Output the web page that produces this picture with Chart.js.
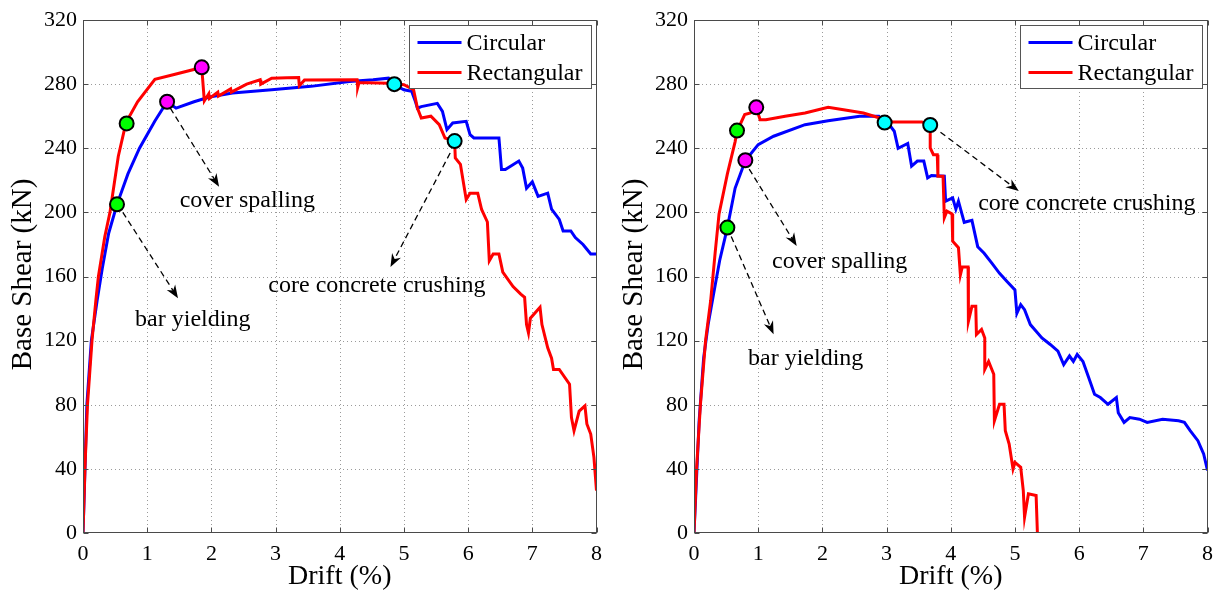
<!DOCTYPE html>
<html>
<head>
<meta charset="utf-8">
<script src="https://cdn.jsdelivr.net/npm/chart.js@4/dist/chart.umd.min.js"></script>
<style>
  body { margin: 0; background: #fff; }
  .panel { position: absolute; top: 0; height: 595px; }
  #left { left: 0; width: 610px; }
  #right { left: 610px; width: 611px; }
</style>
</head>
<body>
<div class="panel" id="left"><canvas id="chartLeft"></canvas></div>
<div class="panel" id="right"><canvas id="chartRight"></canvas></div>
<script>
// axis ticks
const driftTicks = [0, 1, 2, 3, 4, 5, 6, 7, 8];
const shearTicks = [0, 40, 80, 120, 160, 200, 240, 280, 320];

// left panel - circular column
const leftCircDrift = [0, 0.02, 0.06, 0.13, 0.22, 0.3, 0.4, 0.53, 0.7, 0.88, 1.12, 1.31, 1.45, 1.73, 1.97, 2.33, 2.94, 3.55, 4.15, 4.52, 4.76, 4.85, 5.0, 5.12, 5.18, 5.21, 5.27, 5.52, 5.6, 5.67, 5.76, 5.97, 6.03, 6.09, 6.48, 6.52, 6.58, 6.79, 6.85, 6.91, 7.0, 7.09, 7.24, 7.3, 7.42, 7.48, 7.6, 7.67, 7.79, 7.85, 7.91, 8.0];
const leftCircShear = [0, 25, 80, 120, 145, 165, 187, 205, 224, 240, 257, 269, 265, 269, 272, 274.5, 276.5, 278.6, 281.6, 282.7, 283.7, 279.6, 276.5, 275.5, 269, 265, 266, 268, 263, 251.6, 255.8, 256.8, 248.5, 246.4, 246.4, 226.7, 226.7, 232, 227.6, 215, 219, 210, 212, 202, 195.6, 188.4, 188.4, 184.3, 180, 177, 174, 174];

// left panel - rectangular column
const leftRectDrift = [0, 0.03, 0.07, 0.14, 0.2, 0.24, 0.34, 0.42, 0.55, 0.67, 0.85, 1.12, 1.42, 1.85, 1.89, 1.96, 1.97, 2.1, 2.11, 2.3, 2.31, 2.55, 2.76, 2.77, 2.94, 3.18, 3.36, 3.37, 3.45, 4.27, 4.28, 4.3, 4.76, 5.0, 5.15, 5.21, 5.27, 5.42, 5.55, 5.64, 5.79, 5.8, 5.88, 5.97, 6.03, 6.15, 6.21, 6.3, 6.33, 6.39, 6.48, 6.54, 6.7, 6.82, 6.88, 6.91, 6.94, 6.97, 7.12, 7.15, 7.24, 7.3, 7.33, 7.42, 7.58, 7.61, 7.65, 7.73, 7.82, 7.85, 7.91, 7.96, 8.0];
const leftRectShear = [0, 40, 80, 120, 145, 160, 185, 200, 235, 256, 269, 283, 286, 290.4, 269.6, 274, 271, 275, 272.5, 277, 275, 280, 282.7, 280, 283.7, 284, 284.1, 279, 282.5, 282.7, 278, 281, 280.6, 279.6, 276.5, 265, 258.9, 260, 254.7, 246.4, 244.4, 234, 230, 208, 212, 212, 201.8, 194, 169.8, 174, 174, 162.7, 153.7, 149, 147, 130, 124.8, 134, 140.8, 130, 115.5, 109, 102, 102, 92.8, 72, 63.8, 76, 79.3, 68, 61.7, 47.2, 26.5];

// right panel - circular column
const rightCircDrift = [0, 0.03, 0.08, 0.15, 0.22, 0.3, 0.4, 0.52, 0.64, 0.8, 1.0, 1.24, 1.73, 2.09, 2.58, 2.88, 2.97, 3.06, 3.12, 3.18, 3.33, 3.39, 3.48, 3.58, 3.64, 3.7, 3.9, 3.92, 4.03, 4.08, 4.12, 4.21, 4.33, 4.42, 4.52, 4.64, 4.76, 4.88, 5.0, 5.03, 5.09, 5.15, 5.24, 5.33, 5.42, 5.55, 5.67, 5.76, 5.85, 5.91, 5.97, 6.06, 6.15, 6.24, 6.33, 6.45, 6.58, 6.61, 6.7, 6.79, 6.94, 7.06, 7.3, 7.55, 7.64, 7.73, 7.85, 7.94, 8.0];
const rightCircShear = [0, 26, 70, 109, 130, 148, 170, 190.5, 215, 232.3, 242.3, 247.5, 254.7, 257.2, 259.9, 260, 255.8, 253.8, 250.6, 240, 243, 228.8, 232, 232, 221.5, 223, 222.6, 207, 209, 202, 207, 193.8, 195, 178.6, 174.5, 168.3, 162, 156.7, 151.6, 137, 142.4, 139.3, 130, 125.9, 121.7, 117.6, 113.5, 105, 110.4, 107, 111.4, 107, 96.9, 86.5, 84.5, 80.3, 84.5, 75, 69, 72, 71, 69, 71, 70, 69, 63.8, 57.6, 49.3, 39];

// right panel - rectangular column
const rightRectDrift = [0, 0.04, 0.1, 0.18, 0.26, 0.33, 0.39, 0.52, 0.64, 0.67, 0.79, 0.88, 0.97, 1.03, 1.12, 1.42, 1.73, 2.09, 2.33, 2.64, 2.88, 3.06, 3.55, 3.68, 3.68, 3.73, 3.79, 3.8, 3.88, 3.9, 3.94, 4.02, 4.03, 4.12, 4.15, 4.18, 4.27, 4.27, 4.28, 4.33, 4.39, 4.4, 4.48, 4.53, 4.53, 4.59, 4.67, 4.68, 4.76, 4.83, 4.85, 4.91, 4.93, 4.97, 5.0, 5.09, 5.13, 5.15, 5.21, 5.33, 5.35];
const rightRectShear = [0, 40, 80, 120, 145, 175, 199, 224, 244, 250.6, 261, 262, 265.2, 257.8, 257.8, 260, 262, 265.5, 264, 262, 259, 256.4, 256.4, 254.3, 240.2, 236, 236, 222.6, 222.6, 196.7, 200.8, 199, 182, 178, 161, 166, 166, 145, 132, 141.4, 141.4, 123.8, 127, 121.7, 102, 107, 99, 70, 80.3, 80.3, 63.8, 55.5, 50.3, 40, 44, 41, 26.5, 9.9, 24.4, 23.4, 0];

// damage-state markers [circular, rectangular]
const leftYield = [[0.53, 205], [0.68, 255.5]];
const leftSpall = [[1.31, 269], [1.85, 290.5]];
const leftCrush = [[4.85, 280], [5.79, 244.5]];
const rightYield = [[0.52, 190.5], [0.67, 251]];
const rightSpall = [[0.8, 232.5], [0.97, 265.5]];
const rightCrush = [[2.97, 256], [3.68, 254.5]];

// annotations: text, arrow start, arrow end, text centre (data units)
const leftNotes = [
  { text: 'cover spalling', from: [1.36, 265], to: [2.12, 216], at: [2.56, 207] },
  { text: 'bar yielding', from: [0.62, 200], to: [1.48, 146.5], at: [1.71, 133] },
  { text: 'core concrete crushing', from: [5.72, 237], to: [4.79, 166], at: [4.58, 154] }
];
const rightNotes = [
  { text: 'cover spalling', from: [0.86, 227], to: [1.6, 179], at: [2.27, 169] },
  { text: 'bar yielding', from: [0.58, 185], to: [1.24, 124], at: [1.74, 109] },
  { text: 'core concrete crushing', from: [3.84, 250], to: [5.06, 213.3], at: [6.12, 205.5] }
];

const SERIF = '"Liberation Serif", "Times New Roman", serif';

function pairs(xs, ys) {
  return xs.map((x, i) => ({ x: x, y: ys[i] }));
}

function pts(list) {
  return list.map(p => ({ x: p[0], y: p[1] }));
}

function marker(list, color) {
  return {
    label: '', data: pts(list), showLine: false, order: 0,
    pointRadius: 7, pointHoverRadius: 7, pointBorderWidth: 2,
    pointBorderColor: '#000', pointBackgroundColor: color
  };
}

function arrow(ctx, x0, y0, x1, y1) {
  const ang = Math.atan2(y1 - y0, x1 - x0);
  ctx.setLineDash([6, 4]);
  ctx.beginPath();
  ctx.moveTo(x0, y0);
  ctx.lineTo(x1 - 6 * Math.cos(ang), y1 - 6 * Math.sin(ang));
  ctx.stroke();
  ctx.setLineDash([]);
  ctx.beginPath();
  ctx.moveTo(x1, y1);
  ctx.lineTo(x1 - 13 * Math.cos(ang) + 5 * Math.sin(ang), y1 - 13 * Math.sin(ang) - 5 * Math.cos(ang));
  ctx.lineTo(x1 - 9 * Math.cos(ang), y1 - 9 * Math.sin(ang));
  ctx.lineTo(x1 - 13 * Math.cos(ang) - 5 * Math.sin(ang), y1 - 13 * Math.sin(ang) + 5 * Math.cos(ang));
  ctx.closePath();
  ctx.fill();
}

const decor = {
  id: 'decor',
  beforeDatasetsDraw(chart) {
    const { ctx, chartArea: a, scales: { x, y } } = chart;
    ctx.save();
    ctx.strokeStyle = '#9a9a9a';
    ctx.lineWidth = 1;
    ctx.setLineDash([1, 3]);
    x.ticks.forEach(t => {
      const px = Math.round(x.getPixelForValue(t.value)) + 0.5;
      if (px <= a.left + 1 || px >= a.right - 1) return;
      ctx.beginPath(); ctx.moveTo(px, a.top); ctx.lineTo(px, a.bottom); ctx.stroke();
    });
    y.ticks.forEach(t => {
      const py = Math.round(y.getPixelForValue(t.value)) + 0.5;
      if (py <= a.top + 1 || py >= a.bottom - 1) return;
      ctx.beginPath(); ctx.moveTo(a.left, py); ctx.lineTo(a.right, py); ctx.stroke();
    });
    ctx.restore();
  },
  afterDraw(chart, args, opts) {
    const { ctx, chartArea: a, scales: { x, y } } = chart;
    ctx.save();

    // annotations
    ctx.strokeStyle = '#000';
    ctx.fillStyle = '#000';
    ctx.lineWidth = 1.3;
    (opts.notes || []).forEach(n => {
      arrow(ctx, x.getPixelForValue(n.from[0]), y.getPixelForValue(n.from[1]),
        x.getPixelForValue(n.to[0]), y.getPixelForValue(n.to[1]));
      ctx.font = '24px ' + SERIF;
      ctx.textAlign = 'center';
      ctx.textBaseline = 'middle';
      ctx.fillText(n.text, x.getPixelForValue(n.at[0]), y.getPixelForValue(n.at[1]));
    });

    // frame and inward ticks
    ctx.setLineDash([]);
    ctx.strokeStyle = '#4a4a4a';
    ctx.lineWidth = 1;
    const L = Math.round(a.left) + 0.5, R = Math.round(a.right) - 0.5;
    const T = Math.round(a.top) + 0.5, B = Math.round(a.bottom) - 0.5;
    ctx.strokeRect(L, T, R - L, B - T);
    ctx.beginPath();
    x.ticks.forEach(t => {
      const px = Math.round(x.getPixelForValue(t.value)) + 0.5;
      ctx.moveTo(px, B); ctx.lineTo(px, B - 5);
      ctx.moveTo(px, T); ctx.lineTo(px, T + 5);
    });
    y.ticks.forEach(t => {
      const py = Math.round(y.getPixelForValue(t.value)) + 0.5;
      ctx.moveTo(L, py); ctx.lineTo(L + 5, py);
      ctx.moveTo(R, py); ctx.lineTo(R - 5, py);
    });
    ctx.stroke();

    // axis titles
    ctx.fillStyle = '#000';
    ctx.font = '28px ' + SERIF;
    ctx.textAlign = 'center';
    ctx.textBaseline = 'alphabetic';
    ctx.fillText('Drift (%)', (a.left + a.right) / 2, 584);
    ctx.save();
    ctx.translate(a.left - 60, (a.top + a.bottom) / 2 - 2);
    ctx.rotate(-Math.PI / 2);
    ctx.font = '29px ' + SERIF;
    ctx.textBaseline = 'middle';
    ctx.fillText('Base Shear (kN)', 0, 0);
    ctx.restore();

    // legend box
    const lines = chart.data.datasets.filter(d => d.label);
    const bw = 182, bh = 63;
    const bx = Math.round(a.right - 6 - bw) + 0.5, by = Math.round(a.top + 5) + 0.5;
    ctx.fillStyle = '#fff';
    ctx.fillRect(bx, by, bw, bh);
    ctx.strokeStyle = '#555';
    ctx.strokeRect(bx, by, bw, bh);
    ctx.font = '24px ' + SERIF;
    ctx.textAlign = 'left';
    ctx.textBaseline = 'middle';
    lines.forEach((d, i) => {
      const ly = by + 17 + i * 30;
      ctx.strokeStyle = d.borderColor;
      ctx.lineWidth = 3;
      ctx.beginPath(); ctx.moveTo(bx + 8, ly); ctx.lineTo(bx + 52, ly); ctx.stroke();
      ctx.fillStyle = '#000';
      ctx.fillText(d.label, bx + 57, ly + 1);
    });
    ctx.restore();
  }
};

function makePanel(canvasId, circX, circY, rectX, rectY, yieldPts, spallPts, crushPts, notes, axisWidth) {
  const ctx = document.getElementById(canvasId).getContext('2d');
  return new Chart(ctx, {
    type: 'line',
    data: {
      datasets: [
        marker(yieldPts, '#00ff00'),
        marker(spallPts, '#ff00ff'),
        marker(crushPts, '#00ffff'),
        { label: 'Circular', data: pairs(circX, circY), borderColor: '#0000ff', borderWidth: 3, pointRadius: 0, tension: 0, order: 2 },
        { label: 'Rectangular', data: pairs(rectX, rectY), borderColor: '#ff0000', borderWidth: 3, pointRadius: 0, tension: 0, order: 1 }
      ]
    },
    options: {
      responsive: true,
      maintainAspectRatio: false,
      animation: false,
      layout: { padding: { left: 0, right: 13, top: 20, bottom: 0 } },
      scales: {
        x: {
          type: 'linear', min: 0, max: 8,
          afterBuildTicks: s => { s.ticks = driftTicks.map(v => ({ value: v })); },
          afterFit: s => { s.height = 62; },
          grid: { display: false, drawTicks: false },
          border: { display: false },
          ticks: { color: '#000', padding: 8, maxRotation: 0, font: { family: SERIF, size: 22 } }
        },
        y: {
          type: 'linear', min: 0, max: 320,
          afterBuildTicks: s => { s.ticks = shearTicks.map(v => ({ value: v })); },
          afterFit: s => { s.width = axisWidth; },
          grid: { display: false, drawTicks: false },
          border: { display: false },
          ticks: { color: '#000', padding: 6, font: { family: SERIF, size: 22 } }
        }
      },
      plugins: {
        legend: { display: false },
        tooltip: { enabled: false },
        decor: { notes: notes }
      }
    },
    plugins: [decor]
  });
}

makePanel('chartLeft', leftCircDrift, leftCircShear, leftRectDrift, leftRectShear, leftYield, leftSpall, leftCrush, leftNotes, 83);
makePanel('chartRight', rightCircDrift, rightCircShear, rightRectDrift, rightRectShear, rightYield, rightSpall, rightCrush, rightNotes, 84);
</script>
</body>
</html>
